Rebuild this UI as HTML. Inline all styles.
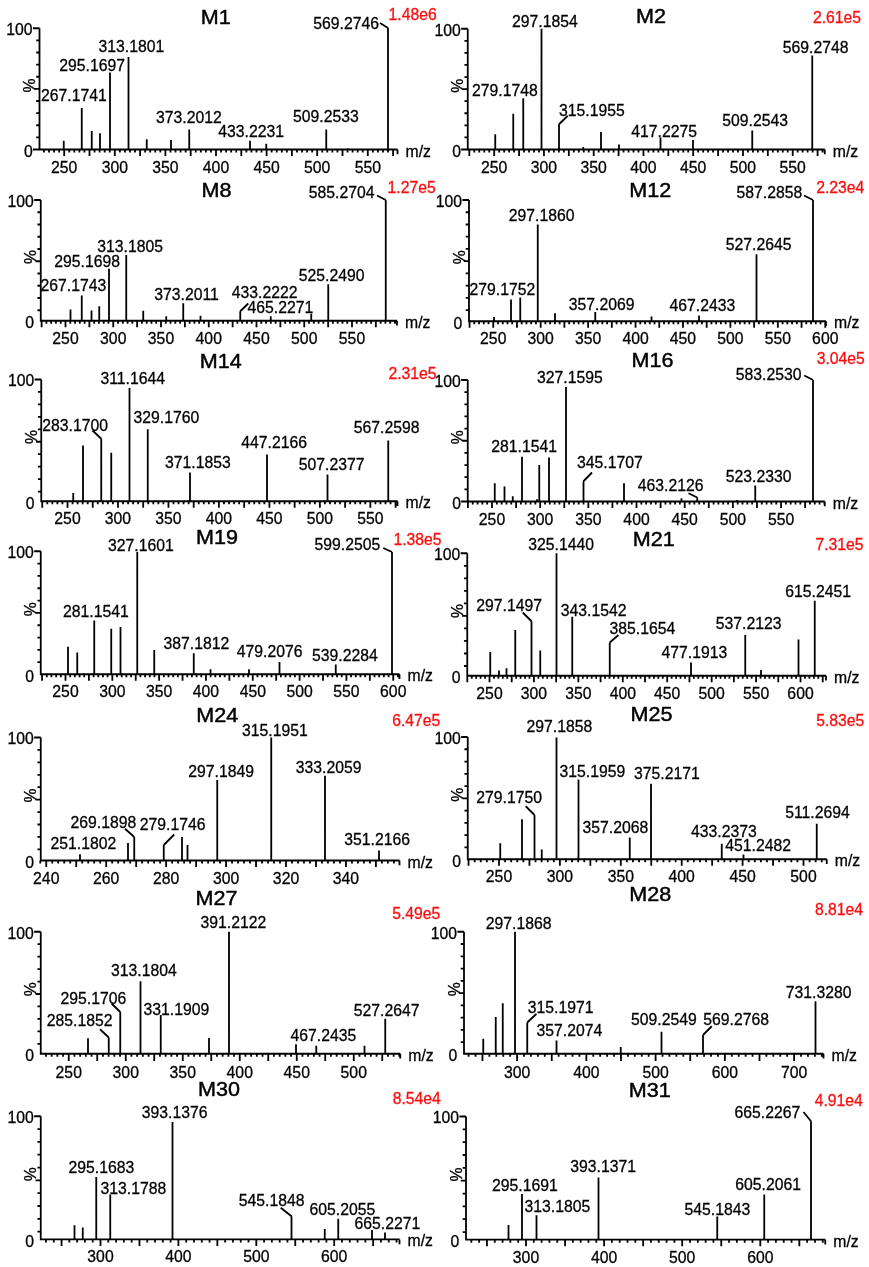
<!DOCTYPE html>
<html><head><meta charset="utf-8"><title>Mass spectra</title>
<style>
html,body{margin:0;padding:0;background:#fff}
svg{display:block}
text{font-family:"Liberation Sans",Arial,sans-serif;font-size:16.6px;fill:#000;stroke:#000;stroke-width:0.3px}
path{stroke:#000;stroke-width:1.8;fill:none}
.t{font-family:"Liberation Sans",Arial,sans-serif;font-weight:normal;font-size:19.9px;fill:#000;stroke:#000;stroke-width:0.45px}
.r{fill:#fb0d0d;stroke:#fb0d0d}
</style></head><body>
<svg width="869" height="1267" viewBox="0 0 869 1267">
<defs><filter id="soft" x="0" y="0" width="100%" height="100%" filterUnits="userSpaceOnUse"><feGaussianBlur stdDeviation="0.35"/></filter></defs>
<rect width="869" height="1267" fill="#fff" stroke="none"/>
<g filter="url(#soft)">
<g>
<path d="M39.5 28.25V149.5H397.5M32.9 28.25H39.5M36.2 40.38H39.5M36.2 52.5H39.5M36.2 64.62H39.5M36.2 76.75H39.5M34.3 88.88H39.5M36.2 101H39.5M36.2 113.12H39.5M36.2 125.25H39.5M36.2 137.38H39.5M32.9 149.5H39.5M43.96 149.5v3M49.02 149.5v3M54.08 149.5v3M59.14 149.5v3M64.2 149.5v6.5M69.26 149.5v3M74.32 149.5v3M79.38 149.5v3M84.44 149.5v3M89.5 149.5v6.5M94.56 149.5v3M99.62 149.5v3M104.68 149.5v3M109.74 149.5v3M114.8 149.5v6.5M119.86 149.5v3M124.92 149.5v3M129.98 149.5v3M135.04 149.5v3M140.1 149.5v6.5M145.16 149.5v3M150.22 149.5v3M155.28 149.5v3M160.34 149.5v3M165.4 149.5v6.5M170.46 149.5v3M175.52 149.5v3M180.58 149.5v3M185.64 149.5v3M190.7 149.5v6.5M195.76 149.5v3M200.82 149.5v3M205.88 149.5v3M210.94 149.5v3M216 149.5v6.5M221.06 149.5v3M226.12 149.5v3M231.18 149.5v3M236.24 149.5v3M241.3 149.5v6.5M246.36 149.5v3M251.42 149.5v3M256.48 149.5v3M261.54 149.5v3M266.6 149.5v6.5M271.66 149.5v3M276.72 149.5v3M281.78 149.5v3M286.84 149.5v3M291.9 149.5v6.5M296.96 149.5v3M302.02 149.5v3M307.08 149.5v3M312.14 149.5v3M317.2 149.5v6.5M322.26 149.5v3M327.32 149.5v3M332.38 149.5v3M337.44 149.5v3M342.5 149.5v6.5M347.56 149.5v3M352.62 149.5v3M357.68 149.5v3M362.74 149.5v3M367.8 149.5v6.5M372.86 149.5v3M377.92 149.5v3M382.98 149.5v3M388.04 149.5v3M393.1 149.5v6.5M397.5 149.5v4.8M63.75 149.5V140.75M81.75 149.5V108M91.75 149.5V131M100 149.5V133.25M110 149.5V72.5M128.5 149.5V57M146.75 149.5V139.25M171 149.5V140M189.25 149.5V129.5M250 149.5V140.75M266.25 149.5V143.75M326.25 149.5V129.5M388 149.5V28M348 149.5V148.3M380 23L388 28"/>
<text transform="translate(64.2 172.5) scale(0.95 1)" text-anchor="middle">250</text>
<text transform="translate(114.8 172.5) scale(0.95 1)" text-anchor="middle">300</text>
<text transform="translate(165.4 172.5) scale(0.95 1)" text-anchor="middle">350</text>
<text transform="translate(216 172.5) scale(0.95 1)" text-anchor="middle">400</text>
<text transform="translate(266.6 172.5) scale(0.95 1)" text-anchor="middle">450</text>
<text transform="translate(317.2 172.5) scale(0.95 1)" text-anchor="middle">500</text>
<text transform="translate(367.8 172.5) scale(0.95 1)" text-anchor="middle">550</text>
<text transform="translate(32.5 35.05) scale(0.95 1)" text-anchor="end">100</text>
<text transform="translate(32.7 157) scale(0.95 1)" text-anchor="end">0</text>
<text transform="translate(35 85.38) rotate(-90) scale(0.95 1)" text-anchor="middle">%</text>
<text transform="translate(405.5 156.5) scale(0.95 1)">m/z</text>
<text transform="translate(98.45 51.75) scale(0.95 1)">313.1801</text>
<text transform="translate(59.2 70.75) scale(0.95 1)">295.1697</text>
<text transform="translate(40.95 100.5) scale(0.95 1)">267.1741</text>
<text transform="translate(155.95 123.25) scale(0.95 1)">373.2012</text>
<text transform="translate(218.2 137) scale(0.95 1)">433.2231</text>
<text transform="translate(292.95 121.75) scale(0.95 1)">509.2533</text>
<text transform="translate(313.2 28.75) scale(0.95 1)">569.2746</text>
<text transform="translate(215.7 24.3) scale(1.085 1)" text-anchor="middle" class="t">M1</text>
<text transform="translate(388.6 19.5) scale(0.95 1)" class="r">1.48e6</text>
</g>
<g>
<path d="M467.75 28.75V149.5H824.75M461.15 28.75H467.75M464.45 40.83H467.75M464.45 52.9H467.75M464.45 64.97H467.75M464.45 77.05H467.75M462.55 89.12H467.75M464.45 101.2H467.75M464.45 113.27H467.75M464.45 125.35H467.75M464.45 137.43H467.75M461.15 149.5H467.75M469.33 149.5v6.5M474.3 149.5v3M479.28 149.5v3M484.25 149.5v3M489.23 149.5v3M494.2 149.5v6.5M499.18 149.5v3M504.15 149.5v3M509.13 149.5v3M514.1 149.5v3M519.08 149.5v6.5M524.05 149.5v3M529.03 149.5v3M534 149.5v3M538.98 149.5v3M543.95 149.5v6.5M548.93 149.5v3M553.9 149.5v3M558.88 149.5v3M563.85 149.5v3M568.83 149.5v6.5M573.8 149.5v3M578.78 149.5v3M583.75 149.5v3M588.73 149.5v3M593.7 149.5v6.5M598.68 149.5v3M603.65 149.5v3M608.62 149.5v3M613.6 149.5v3M618.58 149.5v6.5M623.55 149.5v3M628.53 149.5v3M633.5 149.5v3M638.48 149.5v3M643.45 149.5v6.5M648.43 149.5v3M653.4 149.5v3M658.38 149.5v3M663.35 149.5v3M668.33 149.5v6.5M673.3 149.5v3M678.28 149.5v3M683.25 149.5v3M688.23 149.5v3M693.2 149.5v6.5M698.18 149.5v3M703.15 149.5v3M708.12 149.5v3M713.1 149.5v3M718.08 149.5v6.5M723.05 149.5v3M728.03 149.5v3M733 149.5v3M737.98 149.5v3M742.95 149.5v6.5M747.93 149.5v3M752.9 149.5v3M757.88 149.5v3M762.85 149.5v3M767.83 149.5v6.5M772.8 149.5v3M777.78 149.5v3M782.75 149.5v3M787.73 149.5v3M792.7 149.5v6.5M797.68 149.5v3M802.65 149.5v3M807.62 149.5v3M812.6 149.5v3M817.58 149.5v6.5M822.55 149.5v3M824.75 149.5v4.8M495.25 149.5V134.25M513.25 149.5V113.75M523.25 149.5V98.25M541.5 149.5V28.75M559 149.5V124.25M601 149.5V132M619 149.5V144.5M583.25 149.5V147M660.5 149.5V137.5M693 149.5V140M752.25 149.5V130.5M812.25 149.5V55.5M567.75 115.75L559 124.25"/>
<text transform="translate(494.2 172.5) scale(0.95 1)" text-anchor="middle">250</text>
<text transform="translate(543.95 172.5) scale(0.95 1)" text-anchor="middle">300</text>
<text transform="translate(593.7 172.5) scale(0.95 1)" text-anchor="middle">350</text>
<text transform="translate(643.45 172.5) scale(0.95 1)" text-anchor="middle">400</text>
<text transform="translate(693.2 172.5) scale(0.95 1)" text-anchor="middle">450</text>
<text transform="translate(742.95 172.5) scale(0.95 1)" text-anchor="middle">500</text>
<text transform="translate(792.7 172.5) scale(0.95 1)" text-anchor="middle">550</text>
<text transform="translate(460.75 35.55) scale(0.95 1)" text-anchor="end">100</text>
<text transform="translate(460.95 157) scale(0.95 1)" text-anchor="end">0</text>
<text transform="translate(463.25 85.62) rotate(-90) scale(0.95 1)" text-anchor="middle">%</text>
<text transform="translate(832.75 156.5) scale(0.95 1)">m/z</text>
<text transform="translate(511.95 27) scale(0.95 1)">297.1854</text>
<text transform="translate(471.95 95.75) scale(0.95 1)">279.1748</text>
<text transform="translate(558.95 115.5) scale(0.95 1)">315.1955</text>
<text transform="translate(631.2 136.5) scale(0.95 1)">417.2275</text>
<text transform="translate(722.2 125.75) scale(0.95 1)">509.2543</text>
<text transform="translate(782.7 53.25) scale(0.95 1)">569.2748</text>
<text transform="translate(650.95 22.5) scale(1.085 1)" text-anchor="middle" class="t">M2</text>
<text transform="translate(812.9 23) scale(0.95 1)" class="r">2.61e5</text>
</g>
<g>
<path d="M40.75 200V320.75H397M34.15 200H40.75M37.45 212.25H40.75M37.45 224.5H40.75M37.45 236.75H40.75M37.45 249H40.75M35.55 261.25H40.75M37.45 273.5H40.75M37.45 285.75H40.75M37.45 298H40.75M37.45 310.25H40.75M41.62 320.75v6.5M46.4 320.75v3M51.17 320.75v3M55.95 320.75v3M60.73 320.75v3M65.5 320.75v6.5M70.28 320.75v3M75.05 320.75v3M79.83 320.75v3M84.6 320.75v3M89.38 320.75v6.5M94.15 320.75v3M98.92 320.75v3M103.7 320.75v3M108.47 320.75v3M113.25 320.75v6.5M118.03 320.75v3M122.8 320.75v3M127.57 320.75v3M132.35 320.75v3M137.12 320.75v6.5M141.9 320.75v3M146.68 320.75v3M151.45 320.75v3M156.22 320.75v3M161 320.75v6.5M165.77 320.75v3M170.55 320.75v3M175.32 320.75v3M180.1 320.75v3M184.88 320.75v6.5M189.65 320.75v3M194.42 320.75v3M199.2 320.75v3M203.97 320.75v3M208.75 320.75v6.5M213.53 320.75v3M218.3 320.75v3M223.07 320.75v3M227.85 320.75v3M232.62 320.75v6.5M237.4 320.75v3M242.17 320.75v3M246.95 320.75v3M251.72 320.75v3M256.5 320.75v6.5M261.27 320.75v3M266.05 320.75v3M270.82 320.75v3M275.6 320.75v3M280.38 320.75v6.5M285.15 320.75v3M289.92 320.75v3M294.7 320.75v3M299.48 320.75v3M304.25 320.75v6.5M309.02 320.75v3M313.8 320.75v3M318.57 320.75v3M323.35 320.75v3M328.12 320.75v6.5M332.9 320.75v3M337.68 320.75v3M342.45 320.75v3M347.22 320.75v3M352 320.75v6.5M356.77 320.75v3M361.55 320.75v3M366.32 320.75v3M371.1 320.75v3M375.88 320.75v6.5M380.65 320.75v3M385.43 320.75v3M390.2 320.75v3M394.97 320.75v3M397 320.75v4.8M70.5 320.75V309.5M81.75 320.75V295.5M91.5 320.75V310.5M99.25 320.75V306.25M109 320.75V268.75M126.25 320.75V255M143.25 320.75V310.75M166.25 320.75V316.25M183.25 320.75V303.25M200.5 320.75V315.75M240.25 320.75V311.25M270.75 320.75V316.25M311.25 320.75V313.75M328.25 320.75V284.25M385.75 320.75V200M248.25 303.5L240.25 311.25M377 195.5L385.75 200"/>
<text transform="translate(65.5 343.75) scale(0.95 1)" text-anchor="middle">250</text>
<text transform="translate(113.25 343.75) scale(0.95 1)" text-anchor="middle">300</text>
<text transform="translate(161 343.75) scale(0.95 1)" text-anchor="middle">350</text>
<text transform="translate(208.75 343.75) scale(0.95 1)" text-anchor="middle">400</text>
<text transform="translate(256.5 343.75) scale(0.95 1)" text-anchor="middle">450</text>
<text transform="translate(304.25 343.75) scale(0.95 1)" text-anchor="middle">500</text>
<text transform="translate(352 343.75) scale(0.95 1)" text-anchor="middle">550</text>
<text transform="translate(33.75 206.8) scale(0.95 1)" text-anchor="end">100</text>
<text transform="translate(33.95 328.25) scale(0.95 1)" text-anchor="end">0</text>
<text transform="translate(36.25 256.88) rotate(-90) scale(0.95 1)" text-anchor="middle">%</text>
<text transform="translate(405 327.75) scale(0.95 1)">m/z</text>
<text transform="translate(97.2 251.75) scale(0.95 1)">313.1805</text>
<text transform="translate(54.2 266.75) scale(0.95 1)">295.1698</text>
<text transform="translate(40.45 291.25) scale(0.95 1)">267.1743</text>
<text transform="translate(154.2 300) scale(0.95 1)">373.2011</text>
<text transform="translate(308.7 198.25) scale(0.95 1)">585.2704</text>
<text transform="translate(298.7 281.25) scale(0.95 1)">525.2490</text>
<text transform="translate(231.7 298) scale(0.95 1)">433.2222</text>
<text transform="translate(247.45 312.5) scale(0.95 1)">465.2271</text>
<text transform="translate(216.6 196.75) scale(1.085 1)" text-anchor="middle" class="t">M8</text>
<text transform="translate(387.5 193.2) scale(0.95 1)" class="r">1.27e5</text>
</g>
<g>
<path d="M469 200V321.25H826M462.4 200H469M465.7 212.24H469M465.7 224.48H469M465.7 236.72H469M465.7 248.96H469M463.8 261.2H469M465.7 273.44H469M465.7 285.68H469M465.7 297.92H469M465.7 310.16H469M469.54 321.25v6.5M474.28 321.25v3M479.02 321.25v3M483.76 321.25v3M488.51 321.25v3M493.25 321.25v6.5M497.99 321.25v3M502.74 321.25v3M507.48 321.25v3M512.22 321.25v3M516.97 321.25v6.5M521.71 321.25v3M526.45 321.25v3M531.19 321.25v3M535.94 321.25v3M540.68 321.25v6.5M545.42 321.25v3M550.17 321.25v3M554.91 321.25v3M559.65 321.25v3M564.39 321.25v6.5M569.14 321.25v3M573.88 321.25v3M578.62 321.25v3M583.37 321.25v3M588.11 321.25v6.5M592.85 321.25v3M597.6 321.25v3M602.34 321.25v3M607.08 321.25v3M611.83 321.25v6.5M616.57 321.25v3M621.31 321.25v3M626.05 321.25v3M630.8 321.25v3M635.54 321.25v6.5M640.28 321.25v3M645.03 321.25v3M649.77 321.25v3M654.51 321.25v3M659.25 321.25v6.5M664 321.25v3M668.74 321.25v3M673.48 321.25v3M678.23 321.25v3M682.97 321.25v6.5M687.71 321.25v3M692.46 321.25v3M697.2 321.25v3M701.94 321.25v3M706.68 321.25v6.5M711.43 321.25v3M716.17 321.25v3M720.91 321.25v3M725.66 321.25v3M730.4 321.25v6.5M735.14 321.25v3M739.89 321.25v3M744.63 321.25v3M749.37 321.25v3M754.12 321.25v6.5M758.86 321.25v3M763.6 321.25v3M768.34 321.25v3M773.09 321.25v3M777.83 321.25v6.5M782.57 321.25v3M787.32 321.25v3M792.06 321.25v3M796.8 321.25v3M801.55 321.25v6.5M806.29 321.25v3M811.03 321.25v3M815.77 321.25v3M820.52 321.25v3M825.26 321.25v6.5M826 321.25v4.8M494 321.25V317M511 321.25V299.5M520.25 321.25V297.5M537.75 321.25V224.5M555 321.25V313.25M595.25 321.25V312M651.5 321.25V316.5M699 321.25V315.5M756.5 321.25V254.25M813 321.25V200M804 195.5L813 200"/>
<text transform="translate(493.25 344.25) scale(0.95 1)" text-anchor="middle">250</text>
<text transform="translate(540.68 344.25) scale(0.95 1)" text-anchor="middle">300</text>
<text transform="translate(588.11 344.25) scale(0.95 1)" text-anchor="middle">350</text>
<text transform="translate(635.54 344.25) scale(0.95 1)" text-anchor="middle">400</text>
<text transform="translate(682.97 344.25) scale(0.95 1)" text-anchor="middle">450</text>
<text transform="translate(730.4 344.25) scale(0.95 1)" text-anchor="middle">500</text>
<text transform="translate(777.83 344.25) scale(0.95 1)" text-anchor="middle">550</text>
<text transform="translate(825.26 344.25) scale(0.95 1)" text-anchor="middle">600</text>
<text transform="translate(462 206.8) scale(0.95 1)" text-anchor="end">100</text>
<text transform="translate(462.2 328.75) scale(0.95 1)" text-anchor="end">0</text>
<text transform="translate(464.5 257.12) rotate(-90) scale(0.95 1)" text-anchor="middle">%</text>
<text transform="translate(834 328.25) scale(0.95 1)">m/z</text>
<text transform="translate(508.7 220.75) scale(0.95 1)">297.1860</text>
<text transform="translate(469.45 294.5) scale(0.95 1)">279.1752</text>
<text transform="translate(568.7 309.5) scale(0.95 1)">357.2069</text>
<text transform="translate(736.45 198.25) scale(0.95 1)">587.2858</text>
<text transform="translate(725.7 249.5) scale(0.95 1)">527.2645</text>
<text transform="translate(669.45 311.25) scale(0.95 1)">467.2433</text>
<text transform="translate(650.3 196.75) scale(1.085 1)" text-anchor="middle" class="t">M12</text>
<text transform="translate(816.15 193) scale(0.95 1)" class="r">2.23e4</text>
</g>
<g>
<path d="M41.25 379.5V501.25H397.5M34.65 379.5H41.25M37.95 391.95H41.25M37.95 404.4H41.25M37.95 416.85H41.25M37.95 429.3H41.25M36.05 441.75H41.25M37.95 454.2H41.25M37.95 466.65H41.25M37.95 479.1H41.25M37.95 491.55H41.25M42.26 501.25v6.5M47.31 501.25v3M52.36 501.25v3M57.41 501.25v3M62.45 501.25v3M67.5 501.25v6.5M72.55 501.25v3M77.59 501.25v3M82.64 501.25v3M87.69 501.25v3M92.74 501.25v6.5M97.78 501.25v3M102.83 501.25v3M107.88 501.25v3M112.93 501.25v3M117.97 501.25v6.5M123.02 501.25v3M128.07 501.25v3M133.12 501.25v3M138.17 501.25v3M143.21 501.25v6.5M148.26 501.25v3M153.31 501.25v3M158.36 501.25v3M163.4 501.25v3M168.45 501.25v6.5M173.5 501.25v3M178.55 501.25v3M183.59 501.25v3M188.64 501.25v3M193.69 501.25v6.5M198.74 501.25v3M203.78 501.25v3M208.83 501.25v3M213.88 501.25v3M218.93 501.25v6.5M223.97 501.25v3M229.02 501.25v3M234.07 501.25v3M239.12 501.25v3M244.16 501.25v6.5M249.21 501.25v3M254.26 501.25v3M259.31 501.25v3M264.35 501.25v3M269.4 501.25v6.5M274.45 501.25v3M279.5 501.25v3M284.54 501.25v3M289.59 501.25v3M294.64 501.25v6.5M299.69 501.25v3M304.73 501.25v3M309.78 501.25v3M314.83 501.25v3M319.88 501.25v6.5M324.92 501.25v3M329.97 501.25v3M335.02 501.25v3M340.06 501.25v3M345.11 501.25v6.5M350.16 501.25v3M355.21 501.25v3M360.25 501.25v3M365.3 501.25v3M370.35 501.25v6.5M375.4 501.25v3M380.44 501.25v3M385.49 501.25v3M390.54 501.25v3M395.59 501.25v6.5M397.5 501.25v4.8M73.25 501.25V493M83 501.25V445.5M101.25 501.25V438.75M111.25 501.25V452.75M129.5 501.25V388M147.75 501.25V429.25M190 501.25V472.5M267 501.25V454.5M327.5 501.25V474.5M388.25 501.25V440.5M92.5 430.5L101.25 438.75"/>
<text transform="translate(67.5 524.25) scale(0.95 1)" text-anchor="middle">250</text>
<text transform="translate(117.97 524.25) scale(0.95 1)" text-anchor="middle">300</text>
<text transform="translate(168.45 524.25) scale(0.95 1)" text-anchor="middle">350</text>
<text transform="translate(218.93 524.25) scale(0.95 1)" text-anchor="middle">400</text>
<text transform="translate(269.4 524.25) scale(0.95 1)" text-anchor="middle">450</text>
<text transform="translate(319.88 524.25) scale(0.95 1)" text-anchor="middle">500</text>
<text transform="translate(370.35 524.25) scale(0.95 1)" text-anchor="middle">550</text>
<text transform="translate(34.25 386.3) scale(0.95 1)" text-anchor="end">100</text>
<text transform="translate(34.45 508.75) scale(0.95 1)" text-anchor="end">0</text>
<text transform="translate(36.75 436.88) rotate(-90) scale(0.95 1)" text-anchor="middle">%</text>
<text transform="translate(405.5 508.25) scale(0.95 1)">m/z</text>
<text transform="translate(100.45 384.25) scale(0.95 1)">311.1644</text>
<text transform="translate(42.2 430.5) scale(0.95 1)">283.1700</text>
<text transform="translate(133.45 423) scale(0.95 1)">329.1760</text>
<text transform="translate(164.95 468.25) scale(0.95 1)">371.1853</text>
<text transform="translate(241.2 448) scale(0.95 1)">447.2166</text>
<text transform="translate(298.7 470) scale(0.95 1)">507.2377</text>
<text transform="translate(353.7 433) scale(0.95 1)">567.2598</text>
<text transform="translate(220.7 367.5) scale(1.085 1)" text-anchor="middle" class="t">M14</text>
<text transform="translate(388.4 378.75) scale(0.95 1)" class="r">2.31e5</text>
</g>
<g>
<path d="M467.75 380V501.5H824.75M461.15 380H467.75M464.45 392.15H467.75M464.45 404.3H467.75M464.45 416.45H467.75M464.45 428.6H467.75M462.55 440.75H467.75M464.45 452.9H467.75M464.45 465.05H467.75M464.45 477.2H467.75M464.45 489.35H467.75M461.15 501.5H467.75M467.91 501.5v6.5M472.73 501.5v3M477.55 501.5v3M482.37 501.5v3M487.18 501.5v3M492 501.5v6.5M496.82 501.5v3M501.63 501.5v3M506.45 501.5v3M511.27 501.5v3M516.09 501.5v6.5M520.9 501.5v3M525.72 501.5v3M530.54 501.5v3M535.36 501.5v3M540.17 501.5v6.5M544.99 501.5v3M549.81 501.5v3M554.63 501.5v3M559.45 501.5v3M564.26 501.5v6.5M569.08 501.5v3M573.9 501.5v3M578.72 501.5v3M583.53 501.5v3M588.35 501.5v6.5M593.17 501.5v3M597.99 501.5v3M602.8 501.5v3M607.62 501.5v3M612.44 501.5v6.5M617.25 501.5v3M622.07 501.5v3M626.89 501.5v3M631.71 501.5v3M636.52 501.5v6.5M641.34 501.5v3M646.16 501.5v3M650.98 501.5v3M655.8 501.5v3M660.61 501.5v6.5M665.43 501.5v3M670.25 501.5v3M675.07 501.5v3M679.88 501.5v3M684.7 501.5v6.5M689.52 501.5v3M694.34 501.5v3M699.15 501.5v3M703.97 501.5v3M708.79 501.5v6.5M713.61 501.5v3M718.42 501.5v3M723.24 501.5v3M728.06 501.5v3M732.88 501.5v6.5M737.69 501.5v3M742.51 501.5v3M747.33 501.5v3M752.14 501.5v3M756.96 501.5v6.5M761.78 501.5v3M766.6 501.5v3M771.41 501.5v3M776.23 501.5v3M781.05 501.5v6.5M785.87 501.5v3M790.68 501.5v3M795.5 501.5v3M800.32 501.5v3M805.14 501.5v6.5M809.95 501.5v3M814.77 501.5v3M819.59 501.5v3M824.41 501.5v3M824.75 501.5v4.8M494.75 501.5V483.25M504.5 501.5V486.5M512.75 501.5V496.25M522 501.5V456.75M539.25 501.5V465M549 501.5V457.5M566 501.5V387M583.5 501.5V481.25M624 501.5V483.25M681.5 501.5V498.3M737 501.5V499.9M537 501.5V499.3M697.25 501.5V497.5M755.25 501.5V485.5M813 501.5V380M592 472.5L583.5 481.25M688.5 493.25L697.25 497.5M804.25 375.5L813 380"/>
<text transform="translate(492 524.5) scale(0.95 1)" text-anchor="middle">250</text>
<text transform="translate(540.17 524.5) scale(0.95 1)" text-anchor="middle">300</text>
<text transform="translate(588.35 524.5) scale(0.95 1)" text-anchor="middle">350</text>
<text transform="translate(636.52 524.5) scale(0.95 1)" text-anchor="middle">400</text>
<text transform="translate(684.7 524.5) scale(0.95 1)" text-anchor="middle">450</text>
<text transform="translate(732.88 524.5) scale(0.95 1)" text-anchor="middle">500</text>
<text transform="translate(781.05 524.5) scale(0.95 1)" text-anchor="middle">550</text>
<text transform="translate(460.75 386.8) scale(0.95 1)" text-anchor="end">100</text>
<text transform="translate(460.95 509) scale(0.95 1)" text-anchor="end">0</text>
<text transform="translate(463.25 437.25) rotate(-90) scale(0.95 1)" text-anchor="middle">%</text>
<text transform="translate(832.75 508.5) scale(0.95 1)">m/z</text>
<text transform="translate(536.95 383) scale(0.95 1)">327.1595</text>
<text transform="translate(491.2 452) scale(0.95 1)">281.1541</text>
<text transform="translate(576.95 467.5) scale(0.95 1)">345.1707</text>
<text transform="translate(637.7 490.75) scale(0.95 1)">463.2126</text>
<text transform="translate(735.7 379.5) scale(0.95 1)">583.2530</text>
<text transform="translate(725.7 482) scale(0.95 1)">523.2330</text>
<text transform="translate(652.6 366.7) scale(1.085 1)" text-anchor="middle" class="t">M16</text>
<text transform="translate(816.65 363.75) scale(0.95 1)" class="r">3.04e5</text>
</g>
<g>
<path d="M40.75 551.25V674.25H399.5M34.15 551.25H40.75M37.45 563.58H40.75M37.45 575.91H40.75M37.45 588.24H40.75M37.45 600.57H40.75M35.55 612.9H40.75M37.45 625.23H40.75M37.45 637.56H40.75M37.45 649.89H40.75M37.45 662.22H40.75M42.09 674.25v6.5M46.77 674.25v3M51.45 674.25v3M56.14 674.25v3M60.82 674.25v3M65.5 674.25v6.5M70.18 674.25v3M74.86 674.25v3M79.55 674.25v3M84.23 674.25v3M88.91 674.25v6.5M93.59 674.25v3M98.27 674.25v3M102.96 674.25v3M107.64 674.25v3M112.32 674.25v6.5M117 674.25v3M121.68 674.25v3M126.37 674.25v3M131.05 674.25v3M135.73 674.25v6.5M140.41 674.25v3M145.09 674.25v3M149.78 674.25v3M154.46 674.25v3M159.14 674.25v6.5M163.82 674.25v3M168.5 674.25v3M173.19 674.25v3M177.87 674.25v3M182.55 674.25v6.5M187.23 674.25v3M191.91 674.25v3M196.6 674.25v3M201.28 674.25v3M205.96 674.25v6.5M210.64 674.25v3M215.32 674.25v3M220.01 674.25v3M224.69 674.25v3M229.37 674.25v6.5M234.05 674.25v3M238.73 674.25v3M243.42 674.25v3M248.1 674.25v3M252.78 674.25v6.5M257.46 674.25v3M262.14 674.25v3M266.83 674.25v3M271.51 674.25v3M276.19 674.25v6.5M280.87 674.25v3M285.55 674.25v3M290.24 674.25v3M294.92 674.25v3M299.6 674.25v6.5M304.28 674.25v3M308.96 674.25v3M313.65 674.25v3M318.33 674.25v3M323.01 674.25v6.5M327.69 674.25v3M332.37 674.25v3M337.06 674.25v3M341.74 674.25v3M346.42 674.25v6.5M351.1 674.25v3M355.78 674.25v3M360.47 674.25v3M365.15 674.25v3M369.83 674.25v6.5M374.51 674.25v3M379.19 674.25v3M383.88 674.25v3M388.56 674.25v3M393.24 674.25v6.5M397.92 674.25v3M399.5 674.25v4.8M68 674.25V646.75M77.25 674.25V652.5M94.25 674.25V620.5M111.25 674.25V628.75M120.5 674.25V627M137.25 674.25V552M154.25 674.25V650M193.75 674.25V653.25M210.5 674.25V669.25M249 674.25V669.25M279.5 674.25V662M335.75 674.25V664.5M392 674.25V552M383.25 548L392 552"/>
<text transform="translate(65.5 697.25) scale(0.95 1)" text-anchor="middle">250</text>
<text transform="translate(112.32 697.25) scale(0.95 1)" text-anchor="middle">300</text>
<text transform="translate(159.14 697.25) scale(0.95 1)" text-anchor="middle">350</text>
<text transform="translate(205.96 697.25) scale(0.95 1)" text-anchor="middle">400</text>
<text transform="translate(252.78 697.25) scale(0.95 1)" text-anchor="middle">450</text>
<text transform="translate(299.6 697.25) scale(0.95 1)" text-anchor="middle">500</text>
<text transform="translate(346.42 697.25) scale(0.95 1)" text-anchor="middle">550</text>
<text transform="translate(393.24 697.25) scale(0.95 1)" text-anchor="middle">600</text>
<text transform="translate(33.75 558.05) scale(0.95 1)" text-anchor="end">100</text>
<text transform="translate(33.95 681.75) scale(0.95 1)" text-anchor="end">0</text>
<text transform="translate(36.25 609.25) rotate(-90) scale(0.95 1)" text-anchor="middle">%</text>
<text transform="translate(407.5 681.25) scale(0.95 1)">m/z</text>
<text transform="translate(107.95 550.5) scale(0.95 1)">327.1601</text>
<text transform="translate(62.95 616.75) scale(0.95 1)">281.1541</text>
<text transform="translate(163.45 648.75) scale(0.95 1)">387.1812</text>
<text transform="translate(314.45 550) scale(0.95 1)">599.2505</text>
<text transform="translate(236.7 657) scale(0.95 1)">479.2076</text>
<text transform="translate(311.95 661.25) scale(0.95 1)">539.2284</text>
<text transform="translate(216.95 544.4) scale(1.085 1)" text-anchor="middle" class="t">M19</text>
<text transform="translate(393.4 545) scale(0.95 1)" class="r">1.38e5</text>
</g>
<g>
<path d="M467.25 553.25V675.75H826M460.65 553.25H467.25M463.95 565.78H467.25M463.95 578.31H467.25M463.95 590.84H467.25M463.95 603.37H467.25M462.05 615.9H467.25M463.95 628.43H467.25M463.95 640.96H467.25M463.95 653.49H467.25M463.95 666.02H467.25M467.29 675.75v6.5M471.73 675.75v3M476.17 675.75v3M480.61 675.75v3M485.06 675.75v3M489.5 675.75v6.5M493.94 675.75v3M498.39 675.75v3M502.83 675.75v3M507.27 675.75v3M511.71 675.75v6.5M516.16 675.75v3M520.6 675.75v3M525.04 675.75v3M529.49 675.75v3M533.93 675.75v6.5M538.37 675.75v3M542.82 675.75v3M547.26 675.75v3M551.7 675.75v3M556.14 675.75v6.5M560.59 675.75v3M565.03 675.75v3M569.47 675.75v3M573.92 675.75v3M578.36 675.75v6.5M582.8 675.75v3M587.25 675.75v3M591.69 675.75v3M596.13 675.75v3M600.58 675.75v6.5M605.02 675.75v3M609.46 675.75v3M613.9 675.75v3M618.35 675.75v3M622.79 675.75v6.5M627.23 675.75v3M631.68 675.75v3M636.12 675.75v3M640.56 675.75v3M645 675.75v6.5M649.45 675.75v3M653.89 675.75v3M658.33 675.75v3M662.78 675.75v3M667.22 675.75v6.5M671.66 675.75v3M676.11 675.75v3M680.55 675.75v3M684.99 675.75v3M689.43 675.75v6.5M693.88 675.75v3M698.32 675.75v3M702.76 675.75v3M707.21 675.75v3M711.65 675.75v6.5M716.09 675.75v3M720.54 675.75v3M724.98 675.75v3M729.42 675.75v3M733.87 675.75v6.5M738.31 675.75v3M742.75 675.75v3M747.19 675.75v3M751.64 675.75v3M756.08 675.75v6.5M760.52 675.75v3M764.97 675.75v3M769.41 675.75v3M773.85 675.75v3M778.29 675.75v6.5M782.74 675.75v3M787.18 675.75v3M791.62 675.75v3M796.07 675.75v3M800.51 675.75v6.5M804.95 675.75v3M809.4 675.75v3M813.84 675.75v3M818.28 675.75v3M822.72 675.75v6.5M826 675.75v4.8M490.25 675.75V652M499 675.75V670.5M506.5 675.75V668.25M515.25 675.75V630M531.5 675.75V621.25M540.25 675.75V650.5M556.5 675.75V553.25M572.25 675.75V616.75M609.75 675.75V642.5M691 675.75V662.5M745.25 675.75V635M761 675.75V670M798.5 675.75V639.5M814.75 675.75V600.75M522.75 612.5L531.5 621.25M618.5 635L609.75 642.5"/>
<text transform="translate(489.5 698.75) scale(0.95 1)" text-anchor="middle">250</text>
<text transform="translate(533.93 698.75) scale(0.95 1)" text-anchor="middle">300</text>
<text transform="translate(578.36 698.75) scale(0.95 1)" text-anchor="middle">350</text>
<text transform="translate(622.79 698.75) scale(0.95 1)" text-anchor="middle">400</text>
<text transform="translate(667.22 698.75) scale(0.95 1)" text-anchor="middle">450</text>
<text transform="translate(711.65 698.75) scale(0.95 1)" text-anchor="middle">500</text>
<text transform="translate(756.08 698.75) scale(0.95 1)" text-anchor="middle">550</text>
<text transform="translate(800.51 698.75) scale(0.95 1)" text-anchor="middle">600</text>
<text transform="translate(460.25 560.05) scale(0.95 1)" text-anchor="end">100</text>
<text transform="translate(460.45 683.25) scale(0.95 1)" text-anchor="end">0</text>
<text transform="translate(462.75 611) rotate(-90) scale(0.95 1)" text-anchor="middle">%</text>
<text transform="translate(834 682.75) scale(0.95 1)">m/z</text>
<text transform="translate(528.2 550) scale(0.95 1)">325.1440</text>
<text transform="translate(476.2 610.75) scale(0.95 1)">297.1497</text>
<text transform="translate(560.7 615.5) scale(0.95 1)">343.1542</text>
<text transform="translate(609.45 634.25) scale(0.95 1)">385.1654</text>
<text transform="translate(785.2 597) scale(0.95 1)">615.2451</text>
<text transform="translate(715.7 628.75) scale(0.95 1)">537.2123</text>
<text transform="translate(661.45 658.25) scale(0.95 1)">477.1913</text>
<text transform="translate(653.7 545.5) scale(1.085 1)" text-anchor="middle" class="t">M21</text>
<text transform="translate(815.4 550) scale(0.95 1)" class="r">7.31e5</text>
</g>
<g>
<path d="M40.75 737.5V860.5H399.5M34.15 737.5H40.75M37.45 749.93H40.75M37.45 762.36H40.75M37.45 774.79H40.75M37.45 787.22H40.75M35.55 799.65H40.75M37.45 812.08H40.75M37.45 824.51H40.75M37.45 836.94H40.75M37.45 849.37H40.75M40.26 860.5v3M46.25 860.5v6.5M52.24 860.5v3M58.24 860.5v3M64.23 860.5v3M70.23 860.5v3M76.22 860.5v6.5M82.21 860.5v3M88.21 860.5v3M94.2 860.5v3M100.2 860.5v3M106.19 860.5v6.5M112.18 860.5v3M118.18 860.5v3M124.17 860.5v3M130.17 860.5v3M136.16 860.5v6.5M142.15 860.5v3M148.15 860.5v3M154.14 860.5v3M160.14 860.5v3M166.13 860.5v6.5M172.12 860.5v3M178.12 860.5v3M184.11 860.5v3M190.11 860.5v3M196.1 860.5v6.5M202.09 860.5v3M208.09 860.5v3M214.08 860.5v3M220.08 860.5v3M226.07 860.5v6.5M232.06 860.5v3M238.06 860.5v3M244.05 860.5v3M250.05 860.5v3M256.04 860.5v6.5M262.03 860.5v3M268.03 860.5v3M274.02 860.5v3M280.02 860.5v3M286.01 860.5v6.5M292 860.5v3M298 860.5v3M303.99 860.5v3M309.99 860.5v3M315.98 860.5v6.5M321.97 860.5v3M327.97 860.5v3M333.96 860.5v3M339.96 860.5v3M345.95 860.5v6.5M351.94 860.5v3M357.94 860.5v3M363.93 860.5v3M369.93 860.5v3M375.92 860.5v6.5M381.91 860.5v3M387.91 860.5v3M393.9 860.5v3M399.5 860.5v4.8M80 860.5V854.25M128 860.5V843M134.25 860.5V837M163.75 860.5V845M182 860.5V837M187.5 860.5V845M217.25 860.5V780M271.25 860.5V737.5M325 860.5V775.75M379 860.5V850.5M125 828.75L134.25 837M174.25 834.5L163.75 845"/>
<text transform="translate(46.25 883.5) scale(0.95 1)" text-anchor="middle">240</text>
<text transform="translate(106.19 883.5) scale(0.95 1)" text-anchor="middle">260</text>
<text transform="translate(166.13 883.5) scale(0.95 1)" text-anchor="middle">280</text>
<text transform="translate(226.07 883.5) scale(0.95 1)" text-anchor="middle">300</text>
<text transform="translate(286.01 883.5) scale(0.95 1)" text-anchor="middle">320</text>
<text transform="translate(345.95 883.5) scale(0.95 1)" text-anchor="middle">340</text>
<text transform="translate(33.75 744.3) scale(0.95 1)" text-anchor="end">100</text>
<text transform="translate(33.95 868) scale(0.95 1)" text-anchor="end">0</text>
<text transform="translate(36.25 795.5) rotate(-90) scale(0.95 1)" text-anchor="middle">%</text>
<text transform="translate(407.5 867.5) scale(0.95 1)">m/z</text>
<text transform="translate(50.45 849.25) scale(0.95 1)">251.1802</text>
<text transform="translate(70.45 827.5) scale(0.95 1)">269.1898</text>
<text transform="translate(139.7 830) scale(0.95 1)">279.1746</text>
<text transform="translate(188.2 777) scale(0.95 1)">297.1849</text>
<text transform="translate(241.95 735.5) scale(0.95 1)">315.1951</text>
<text transform="translate(295.7 773) scale(0.95 1)">333.2059</text>
<text transform="translate(344.2 844.5) scale(0.95 1)">351.2166</text>
<text transform="translate(217.2 722.3) scale(1.085 1)" text-anchor="middle" class="t">M24</text>
<text transform="translate(392.15 726.25) scale(0.95 1)" class="r">6.47e5</text>
</g>
<g>
<path d="M467.75 737V859.25H826.75M461.15 737H467.75M464.45 749.27H467.75M464.45 761.54H467.75M464.45 773.81H467.75M464.45 786.08H467.75M462.55 798.35H467.75M464.45 810.62H467.75M464.45 822.89H467.75M464.45 835.16H467.75M464.45 847.43H467.75M468.55 859.25v6.5M474.64 859.25v3M480.73 859.25v3M486.82 859.25v3M492.91 859.25v3M499 859.25v6.5M505.09 859.25v3M511.18 859.25v3M517.27 859.25v3M523.36 859.25v3M529.45 859.25v6.5M535.54 859.25v3M541.63 859.25v3M547.72 859.25v3M553.81 859.25v3M559.9 859.25v6.5M565.99 859.25v3M572.08 859.25v3M578.17 859.25v3M584.26 859.25v3M590.35 859.25v6.5M596.44 859.25v3M602.53 859.25v3M608.62 859.25v3M614.71 859.25v3M620.8 859.25v6.5M626.89 859.25v3M632.98 859.25v3M639.07 859.25v3M645.16 859.25v3M651.25 859.25v6.5M657.34 859.25v3M663.43 859.25v3M669.52 859.25v3M675.61 859.25v3M681.7 859.25v6.5M687.79 859.25v3M693.88 859.25v3M699.97 859.25v3M706.06 859.25v3M712.15 859.25v6.5M718.24 859.25v3M724.33 859.25v3M730.42 859.25v3M736.51 859.25v3M742.6 859.25v6.5M748.69 859.25v3M754.78 859.25v3M760.87 859.25v3M766.96 859.25v3M773.05 859.25v6.5M779.14 859.25v3M785.23 859.25v3M791.32 859.25v3M797.41 859.25v3M803.5 859.25v6.5M809.59 859.25v3M815.68 859.25v3M821.77 859.25v3M826.75 859.25v4.8M500.25 859.25V843.25M522 859.25V819.25M534.5 859.25V815M541.75 859.25V849.5M556.5 859.25V737.5M578.5 859.25V779.5M629.75 859.25V837.5M651 859.25V783.75M721.75 859.25V843.75M743.5 859.25V854.5M816.75 859.25V823.75M525.75 806.25L534.5 815"/>
<text transform="translate(499 882.25) scale(0.95 1)" text-anchor="middle">250</text>
<text transform="translate(559.9 882.25) scale(0.95 1)" text-anchor="middle">300</text>
<text transform="translate(620.8 882.25) scale(0.95 1)" text-anchor="middle">350</text>
<text transform="translate(681.7 882.25) scale(0.95 1)" text-anchor="middle">400</text>
<text transform="translate(742.6 882.25) scale(0.95 1)" text-anchor="middle">450</text>
<text transform="translate(803.5 882.25) scale(0.95 1)" text-anchor="middle">500</text>
<text transform="translate(460.75 743.8) scale(0.95 1)" text-anchor="end">100</text>
<text transform="translate(460.95 866.75) scale(0.95 1)" text-anchor="end">0</text>
<text transform="translate(463.25 794.62) rotate(-90) scale(0.95 1)" text-anchor="middle">%</text>
<text transform="translate(834.75 866.25) scale(0.95 1)">m/z</text>
<text transform="translate(526.45 732) scale(0.95 1)">297.1858</text>
<text transform="translate(476.2 802.5) scale(0.95 1)">279.1750</text>
<text transform="translate(559.45 776.75) scale(0.95 1)">315.1959</text>
<text transform="translate(582.45 833.25) scale(0.95 1)">357.2068</text>
<text transform="translate(633.95 778.75) scale(0.95 1)">375.2171</text>
<text transform="translate(690.95 837) scale(0.95 1)">433.2373</text>
<text transform="translate(725.2 851.25) scale(0.95 1)">451.2482</text>
<text transform="translate(785.2 818.25) scale(0.95 1)">511.2694</text>
<text transform="translate(651.6 720.75) scale(1.085 1)" text-anchor="middle" class="t">M25</text>
<text transform="translate(816.15 725.5) scale(0.95 1)" class="r">5.83e5</text>
</g>
<g>
<path d="M40.75 931.75V1053.75H400.25M34.15 931.75H40.75M37.45 944.2H40.75M37.45 956.65H40.75M37.45 969.1H40.75M37.45 981.55H40.75M35.55 994H40.75M37.45 1006.45H40.75M37.45 1018.9H40.75M37.45 1031.35H40.75M37.45 1043.8H40.75M45.95 1053.75v3M51.65 1053.75v3M57.35 1053.75v3M63.05 1053.75v3M68.75 1053.75v7.2M74.45 1053.75v3M80.15 1053.75v3M85.85 1053.75v3M91.55 1053.75v3M97.25 1053.75v7.2M102.95 1053.75v3M108.65 1053.75v3M114.35 1053.75v3M120.05 1053.75v3M125.75 1053.75v7.2M131.45 1053.75v3M137.15 1053.75v3M142.85 1053.75v3M148.55 1053.75v3M154.25 1053.75v7.2M159.95 1053.75v3M165.65 1053.75v3M171.35 1053.75v3M177.05 1053.75v3M182.75 1053.75v7.2M188.45 1053.75v3M194.15 1053.75v3M199.85 1053.75v3M205.55 1053.75v3M211.25 1053.75v7.2M216.95 1053.75v3M222.65 1053.75v3M228.35 1053.75v3M234.05 1053.75v3M239.75 1053.75v7.2M245.45 1053.75v3M251.15 1053.75v3M256.85 1053.75v3M262.55 1053.75v3M268.25 1053.75v7.2M273.95 1053.75v3M279.65 1053.75v3M285.35 1053.75v3M291.05 1053.75v3M296.75 1053.75v7.2M302.45 1053.75v3M308.15 1053.75v3M313.85 1053.75v3M319.55 1053.75v3M325.25 1053.75v7.2M330.95 1053.75v3M336.65 1053.75v3M342.35 1053.75v3M348.05 1053.75v3M353.75 1053.75v7.2M359.45 1053.75v3M365.15 1053.75v3M370.85 1053.75v3M376.55 1053.75v3M382.25 1053.75v7.2M387.95 1053.75v3M393.65 1053.75v3M399.35 1053.75v3M400.25 1053.75v4.8M88 1053.75V1038.25M108.75 1053.75V1037.5M120.25 1053.75V1012M140.5 1053.75V981.25M160.75 1053.75V1015M209 1053.75V1038M229 1053.75V931.75M296 1053.75V1044.25M316.25 1053.75V1045.75M364.5 1053.75V1045.75M385.25 1053.75V1018.75M111.75 1003.75L120.25 1012M100 1029.25L108.75 1037.5"/>
<text transform="translate(68.75 1077.85) scale(0.95 1)" text-anchor="middle">250</text>
<text transform="translate(125.75 1077.85) scale(0.95 1)" text-anchor="middle">300</text>
<text transform="translate(182.75 1077.85) scale(0.95 1)" text-anchor="middle">350</text>
<text transform="translate(239.75 1077.85) scale(0.95 1)" text-anchor="middle">400</text>
<text transform="translate(296.75 1077.85) scale(0.95 1)" text-anchor="middle">450</text>
<text transform="translate(353.75 1077.85) scale(0.95 1)" text-anchor="middle">500</text>
<text transform="translate(33.75 938.55) scale(0.95 1)" text-anchor="end">100</text>
<text transform="translate(33.95 1061.25) scale(0.95 1)" text-anchor="end">0</text>
<text transform="translate(36.25 989.25) rotate(-90) scale(0.95 1)" text-anchor="middle">%</text>
<text transform="translate(408.25 1060.75) scale(0.95 1)">m/z</text>
<text transform="translate(110.95 975.5) scale(0.95 1)">313.1804</text>
<text transform="translate(60.45 1003.75) scale(0.95 1)">295.1706</text>
<text transform="translate(46.7 1025.75) scale(0.95 1)">285.1852</text>
<text transform="translate(143.45 1014.5) scale(0.95 1)">331.1909</text>
<text transform="translate(200.45 928.25) scale(0.95 1)">391.2122</text>
<text transform="translate(290.45 1040.5) scale(0.95 1)">467.2435</text>
<text transform="translate(353.7 1015.75) scale(0.95 1)">527.2647</text>
<text transform="translate(216.6 904.7) scale(1.085 1)" text-anchor="middle" class="t">M27</text>
<text transform="translate(392.15 918.75) scale(0.95 1)" class="r">5.49e5</text>
</g>
<g>
<path d="M464 931.75V1053.75H823.5M457.4 931.75H464M460.7 944.02H464M460.7 956.29H464M460.7 968.56H464M460.7 980.83H464M458.8 993.1H464M460.7 1005.37H464M460.7 1017.64H464M460.7 1029.91H464M460.7 1042.18H464M468.62 1053.75v3M475.55 1053.75v3M482.48 1053.75v7.2M489.4 1053.75v3M496.33 1053.75v3M503.25 1053.75v3M510.18 1053.75v3M517.1 1053.75v7.2M524.02 1053.75v3M530.95 1053.75v3M537.88 1053.75v3M544.8 1053.75v3M551.73 1053.75v7.2M558.65 1053.75v3M565.58 1053.75v3M572.5 1053.75v3M579.43 1053.75v3M586.35 1053.75v7.2M593.27 1053.75v3M600.2 1053.75v3M607.12 1053.75v3M614.05 1053.75v3M620.98 1053.75v7.2M627.9 1053.75v3M634.83 1053.75v3M641.75 1053.75v3M648.67 1053.75v3M655.6 1053.75v7.2M662.53 1053.75v3M669.45 1053.75v3M676.38 1053.75v3M683.3 1053.75v3M690.23 1053.75v7.2M697.15 1053.75v3M704.08 1053.75v3M711 1053.75v3M717.92 1053.75v3M724.85 1053.75v7.2M731.78 1053.75v3M738.7 1053.75v3M745.62 1053.75v3M752.55 1053.75v3M759.48 1053.75v7.2M766.4 1053.75v3M773.33 1053.75v3M780.25 1053.75v3M787.17 1053.75v3M794.1 1053.75v7.2M801.03 1053.75v3M807.95 1053.75v3M814.88 1053.75v3M821.8 1053.75v3M823.5 1053.75v4.8M483.25 1053.75V1038.75M495.75 1053.75V1017M502.75 1053.75V1003.25M515 1053.75V931.75M527.25 1053.75V1022.5M556.5 1053.75V1040.5M620.75 1053.75V1047M661.5 1053.75V1031.75M703 1053.75V1035M815.5 1053.75V1001.25M536.5 1013.75L527.25 1022.5M711.75 1026.25L703 1035"/>
<text transform="translate(517.1 1077.85) scale(0.95 1)" text-anchor="middle">300</text>
<text transform="translate(586.35 1077.85) scale(0.95 1)" text-anchor="middle">400</text>
<text transform="translate(655.6 1077.85) scale(0.95 1)" text-anchor="middle">500</text>
<text transform="translate(724.85 1077.85) scale(0.95 1)" text-anchor="middle">600</text>
<text transform="translate(794.1 1077.85) scale(0.95 1)" text-anchor="middle">700</text>
<text transform="translate(457 938.55) scale(0.95 1)" text-anchor="end">100</text>
<text transform="translate(457.2 1061.25) scale(0.95 1)" text-anchor="end">0</text>
<text transform="translate(459.5 989.25) rotate(-90) scale(0.95 1)" text-anchor="middle">%</text>
<text transform="translate(831.5 1060.75) scale(0.95 1)">m/z</text>
<text transform="translate(485.7 928.75) scale(0.95 1)">297.1868</text>
<text transform="translate(527.7 1012.5) scale(0.95 1)">315.1971</text>
<text transform="translate(536.45 1036.25) scale(0.95 1)">357.2074</text>
<text transform="translate(630.95 1025) scale(0.95 1)">509.2549</text>
<text transform="translate(703.2 1025) scale(0.95 1)">569.2768</text>
<text transform="translate(785.7 997.5) scale(0.95 1)">731.3280</text>
<text transform="translate(650.3 900.6) scale(1.085 1)" text-anchor="middle" class="t">M28</text>
<text transform="translate(814.9 915) scale(0.95 1)" class="r">8.81e4</text>
</g>
<g>
<path d="M40.75 1116.25V1239.45H399.5M34.15 1116.25H40.75M37.45 1129.07H40.75M37.45 1141.89H40.75M37.45 1154.71H40.75M37.45 1167.53H40.75M35.55 1180.35H40.75M37.45 1193.17H40.75M37.45 1205.99H40.75M37.45 1218.81H40.75M37.45 1231.63H40.75M45.97 1239.45v3M53.76 1239.45v3M61.55 1239.45v6.5M69.34 1239.45v3M77.13 1239.45v3M84.92 1239.45v3M92.71 1239.45v3M100.5 1239.45v6.5M108.29 1239.45v3M116.08 1239.45v3M123.87 1239.45v3M131.66 1239.45v3M139.45 1239.45v6.5M147.24 1239.45v3M155.03 1239.45v3M162.82 1239.45v3M170.61 1239.45v3M178.4 1239.45v6.5M186.19 1239.45v3M193.98 1239.45v3M201.77 1239.45v3M209.56 1239.45v3M217.35 1239.45v6.5M225.14 1239.45v3M232.93 1239.45v3M240.72 1239.45v3M248.51 1239.45v3M256.3 1239.45v6.5M264.09 1239.45v3M271.88 1239.45v3M279.67 1239.45v3M287.46 1239.45v3M295.25 1239.45v6.5M303.04 1239.45v3M310.83 1239.45v3M318.62 1239.45v3M326.41 1239.45v3M334.2 1239.45v6.5M341.99 1239.45v3M349.78 1239.45v3M357.57 1239.45v3M365.36 1239.45v3M373.15 1239.45v6.5M380.94 1239.45v3M388.73 1239.45v3M396.52 1239.45v3M399.5 1239.45v4.8M74.5 1239.45V1225.25M82.75 1239.45V1227.5M96.25 1239.45V1177M110.25 1239.45V1194.5M172.5 1239.45V1122M291.5 1239.45V1216.25M324.75 1239.45V1229M338.25 1239.45V1218.75M372 1239.45V1230M385 1239.45V1232.5M280.75 1207.75L291.5 1216.25"/>
<text transform="translate(100.5 1262.45) scale(0.95 1)" text-anchor="middle">300</text>
<text transform="translate(178.4 1262.45) scale(0.95 1)" text-anchor="middle">400</text>
<text transform="translate(256.3 1262.45) scale(0.95 1)" text-anchor="middle">500</text>
<text transform="translate(334.2 1262.45) scale(0.95 1)" text-anchor="middle">600</text>
<text transform="translate(33.75 1123.05) scale(0.95 1)" text-anchor="end">100</text>
<text transform="translate(33.95 1246.95) scale(0.95 1)" text-anchor="end">0</text>
<text transform="translate(36.25 1174.35) rotate(-90) scale(0.95 1)" text-anchor="middle">%</text>
<text transform="translate(407.5 1246.45) scale(0.95 1)">m/z</text>
<text transform="translate(141.7 1118.25) scale(0.95 1)">393.1376</text>
<text transform="translate(68.45 1172.75) scale(0.95 1)">295.1683</text>
<text transform="translate(100.45 1194) scale(0.95 1)">313.1788</text>
<text transform="translate(238.7 1206.25) scale(0.95 1)">545.1848</text>
<text transform="translate(309.45 1215.25) scale(0.95 1)">605.2055</text>
<text transform="translate(354.45 1229) scale(0.95 1)">665.2271</text>
<text transform="translate(219 1096.4) scale(1.085 1)" text-anchor="middle" class="t">M30</text>
<text transform="translate(392.65 1104) scale(0.95 1)" class="r">8.54e4</text>
</g>
<g>
<path d="M466 1116.5V1239.7H825.25M459.4 1116.5H466M462.7 1129.34H466M462.7 1142.18H466M462.7 1155.02H466M462.7 1167.86H466M460.8 1180.7H466M462.7 1193.54H466M462.7 1206.38H466M462.7 1219.22H466M462.7 1232.06H466M471.33 1239.7v3M479.14 1239.7v3M486.95 1239.7v6.5M494.76 1239.7v3M502.57 1239.7v3M510.38 1239.7v3M518.19 1239.7v3M526 1239.7v6.5M533.81 1239.7v3M541.62 1239.7v3M549.43 1239.7v3M557.24 1239.7v3M565.05 1239.7v6.5M572.86 1239.7v3M580.67 1239.7v3M588.48 1239.7v3M596.29 1239.7v3M604.1 1239.7v6.5M611.91 1239.7v3M619.72 1239.7v3M627.53 1239.7v3M635.34 1239.7v3M643.15 1239.7v6.5M650.96 1239.7v3M658.77 1239.7v3M666.58 1239.7v3M674.39 1239.7v3M682.2 1239.7v6.5M690.01 1239.7v3M697.82 1239.7v3M705.63 1239.7v3M713.44 1239.7v3M721.25 1239.7v6.5M729.06 1239.7v3M736.87 1239.7v3M744.68 1239.7v3M752.49 1239.7v3M760.3 1239.7v6.5M768.11 1239.7v3M775.92 1239.7v3M783.73 1239.7v3M791.54 1239.7v3M799.35 1239.7v6.5M807.16 1239.7v3M814.97 1239.7v3M822.78 1239.7v3M825.25 1239.7v4.8M508.5 1239.7V1225M522 1239.7V1194M536.5 1239.7V1215.25M598.5 1239.7V1177.5M717.25 1239.7V1216.5M764.25 1239.7V1194.5M811 1239.7V1121.25M803.5 1112L811 1121.25"/>
<text transform="translate(526 1262.7) scale(0.95 1)" text-anchor="middle">300</text>
<text transform="translate(604.1 1262.7) scale(0.95 1)" text-anchor="middle">400</text>
<text transform="translate(682.2 1262.7) scale(0.95 1)" text-anchor="middle">500</text>
<text transform="translate(760.3 1262.7) scale(0.95 1)" text-anchor="middle">600</text>
<text transform="translate(459 1123.3) scale(0.95 1)" text-anchor="end">100</text>
<text transform="translate(459.2 1247.2) scale(0.95 1)" text-anchor="end">0</text>
<text transform="translate(461.5 1174.6) rotate(-90) scale(0.95 1)" text-anchor="middle">%</text>
<text transform="translate(833.25 1246.7) scale(0.95 1)">m/z</text>
<text transform="translate(570.2 1171.5) scale(0.95 1)">393.1371</text>
<text transform="translate(491.95 1190.75) scale(0.95 1)">295.1691</text>
<text transform="translate(524.45 1212) scale(0.95 1)">313.1805</text>
<text transform="translate(734.45 1118.25) scale(0.95 1)">665.2267</text>
<text transform="translate(735.2 1190.25) scale(0.95 1)">605.2061</text>
<text transform="translate(684.45 1214.5) scale(0.95 1)">545.1843</text>
<text transform="translate(649.7 1096.75) scale(1.085 1)" text-anchor="middle" class="t">M31</text>
<text transform="translate(814.65 1106.25) scale(0.95 1)" class="r">4.91e4</text>
</g>
</g>
</svg></body></html>
